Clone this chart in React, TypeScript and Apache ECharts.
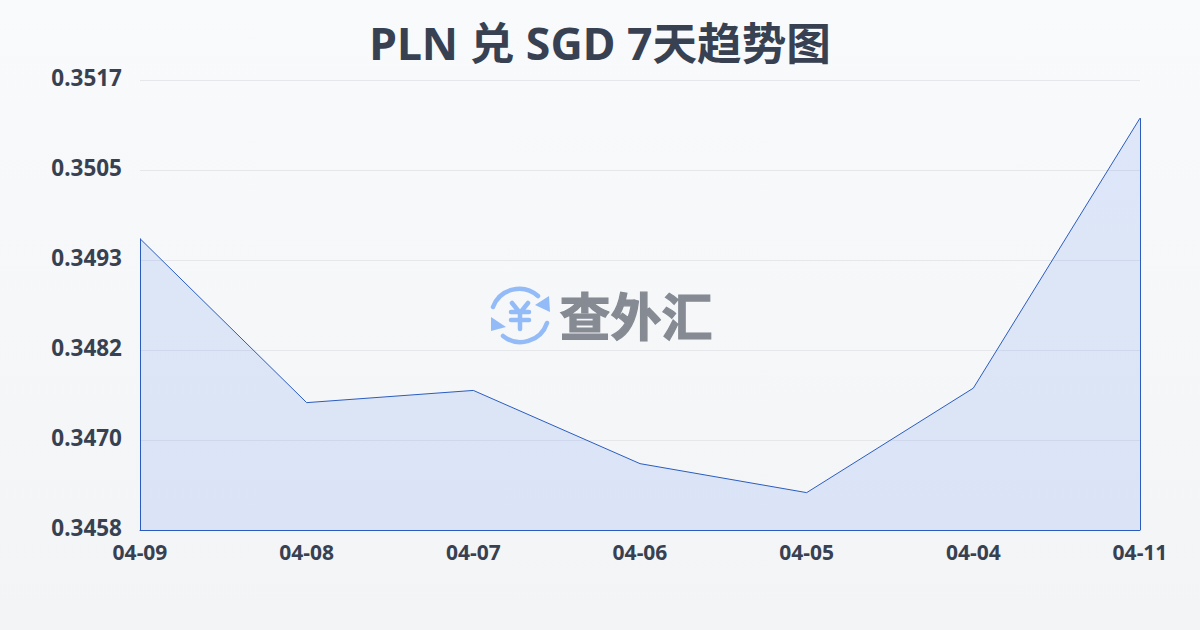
import React, { useEffect, useRef } from "react";
import * as echarts from "echarts";

const dates = ["04-09", "04-08", "04-07", "04-06", "04-05", "04-04", "04-11"];
const rates = [0.34962, 0.34747, 0.34763, 0.34667, 0.34629, 0.34766, 0.3512];
const yMin = 0.3458;
const yMax = 0.3517;
const titleText = "PLN 兑 SGD 7天趋势图";
const brandText = "查外汇";

const FONT = '"Noto Sans", "Noto Sans CJK SC", sans-serif';
const LINE = "#2a5cc0";
const ICON = "#93bbf8";
const INK = "#374151";

echarts.graphic.registerShape(
  "fxArcs",
  echarts.graphic.extendPath(
    "M493 307 A28 28 0 0 1 538 296 M547 323 A28 28 0 0 1 503 336 M512 303 L520 313 L528 303 M511 312 L529 312 M511 320 L529 320 M520 313 L520 329",
    {}
  ) as any
);
echarts.graphic.registerShape(
  "fxHeads",
  echarts.graphic.extendPath("M550 312 L549 296 L535 305 Z M491 317 L491 331 L506 327 Z", {}) as any
);

export default function App() {
  const ref = useRef<HTMLDivElement>(null);
  useEffect(() => {
    document.body.style.margin = "0";
    const chart = echarts.init(ref.current!, undefined, { renderer: "svg" });
    const step = (yMax - yMin) / 5;
    const first = dates[0];
    const last = dates[dates.length - 1];
    chart.setOption({
      animation: false,
      backgroundColor: {
        type: "linear",
        x: 0,
        y: 0,
        x2: 0,
        y2: 1,
        colorStops: [
          { offset: 0, color: "#f8fafc" },
          { offset: 1, color: "#f3f4f6" },
        ],
      },
      title: {
        text: titleText,
        left: "center",
        top: 15,
        textStyle: { color: INK, fontSize: 44.6, fontWeight: "bold", fontFamily: FONT },
      },
      grid: { left: 140, right: 60, top: 80, bottom: 100 },
      xAxis: {
        type: "category",
        data: dates,
        boundaryGap: false,
        axisLine: { show: true, lineStyle: { color: LINE, width: 1 } },
        axisTick: { show: false },
        axisLabel: {
          color: INK,
          fontSize: 21,
          fontWeight: "bold",
          fontFamily: FONT,
          margin: 11,
          interval: 0,
        },
        splitLine: { show: false },
      },
      yAxis: {
        type: "value",
        min: yMin,
        max: yMax,
        interval: step,
        axisLine: { show: false },
        axisTick: { show: false },
        axisLabel: {
          color: INK,
          fontSize: 22.5,
          fontWeight: "bold",
          fontFamily: FONT,
          margin: 18,
          verticalAlign: "bottom",
          lineHeight: 5,
          formatter: (v: number) => v.toFixed(4),
        },
        splitLine: { show: true, lineStyle: { color: "#e5e7eb", width: 1 } },
      },
      series: [
        {
          type: "line",
          data: rates,
          showSymbol: false,
          symbol: "none",
          lineStyle: { color: LINE, width: 1 },
          areaStyle: { color: "rgba(37,99,235,0.17)" },
          z: 3,
          markLine: {
            silent: true,
            symbol: "none",
            label: { show: false },
            lineStyle: { color: LINE, width: 1, type: "solid" },
            data: [
              [{ coord: [first, yMin] }, { coord: [first, rates[0]] }],
              [{ coord: [last, yMin] }, { coord: [last, rates[rates.length - 1]] }],
            ],
          },
        },
      ],
      graphic: [
        {
          type: "group",
          z: 10,
          children: [
            {
              type: "fxArcs",
              x: 0,
              y: 0,
              style: { fill: "none", stroke: ICON, lineWidth: 4.5, lineCap: "round" },
            },
            { type: "fxHeads", x: 0, y: 0, style: { fill: ICON } },
            {
              type: "text",
              x: 636,
              y: 314,
              style: {
                text: brandText,
                fill: "#858a93",
                stroke: "#858a93",
                lineWidth: 1.2,
                font: 'bold 51px "Noto Sans CJK SC"',
                align: "center",
                verticalAlign: "middle",
              },
            },
          ],
        },
      ],
    });
    return () => chart.dispose();
  }, []);
  return <div ref={ref} style={{ width: 1200, height: 630 }} />;
}
